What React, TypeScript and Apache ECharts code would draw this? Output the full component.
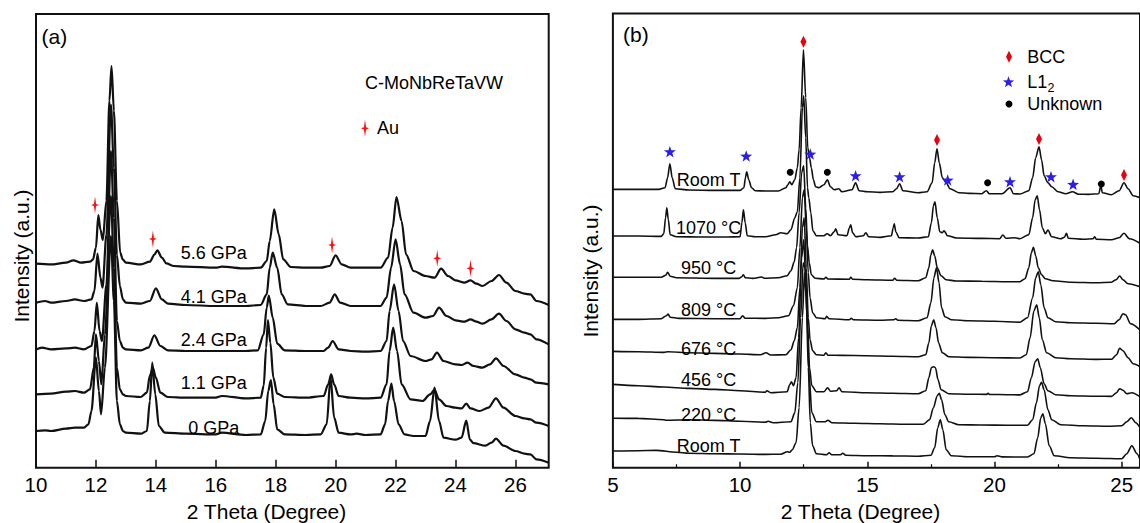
import { useEffect, useRef } from "react";
import * as echarts from "echarts";

const FONT = "'Liberation Sans', Arial, Helvetica, sans-serif";
const INK = "#111111";
const TXT = "#000000";

// ---------- Panel (a): pressure series, 2θ (deg) vs intensity (a.u.) ----------
const gpa56: number[][] = [[10.0,204],[10.5,203.3],[11.0,205],[11.25,207.3],[11.5,205],[11.8,206],[11.9,208],[12.0,220],[12.08,252.7],[12.15,238],[12.23,227.7],[12.35,267],[12.45,367],[12.52,401.7],[12.6,357],[12.7,267],[12.81,215],[12.9,208],[13.0,205],[13.5,203.3],[13.8,206],[13.95,213],[14.05,217.3],[14.2,210],[14.35,204.3],[14.6,201.7],[15.0,201],[16.0,200],[16.2,201],[17.0,199.3],[17.5,200],[17.7,206.7],[17.8,226.7],[17.95,258.3],[18.1,233.3],[18.25,208.3],[18.5,200.7],[19.0,200],[19.5,200],[19.8,201.7],[20.0,212.3],[20.2,203.3],[20.5,200],[21.0,200],[21.5,200],[21.75,210],[21.9,240],[22.03,270.7],[22.2,246.7],[22.35,213.3],[22.6,196.7],[23.0,191.7],[23.3,190],[23.52,199],[23.75,191.7],[24.0,187.3],[24.3,185],[24.5,187.3],[24.7,184],[24.9,181.7],[25.2,186.7],[25.45,192.7],[25.7,185],[26.0,176.7],[26.3,174],[26.5,173.3],[26.7,166.7],[27.11,162.7]];
const gpa41: number[][] = [[10.0,165],[10.3,166.7],[10.5,165],[11.0,166.7],[11.3,168.3],[11.6,166.7],[11.85,168.3],[11.95,176.7],[12.05,214],[12.15,190],[12.22,180],[12.35,233],[12.5,363],[12.6,300],[12.7,213],[12.8,181.7],[12.9,168.3],[13.0,165],[13.5,164],[13.8,166.7],[14.0,179.3],[14.2,168.3],[14.4,164],[15.0,162.7],[16.0,161.7],[17.0,161.7],[17.5,162.7],[17.7,173.3],[17.8,200],[17.9,215],[18.05,200],[18.2,173.3],[18.4,163.3],[19.0,161.7],[19.5,161.7],[19.8,165],[19.97,173.3],[20.15,165],[20.5,161.7],[21.0,161.7],[21.5,161.7],[21.7,170],[21.85,200],[22.0,228.3],[22.15,203.3],[22.3,173.3],[22.6,155],[23.0,150],[23.25,151.7],[23.45,160],[23.7,151.7],[24.0,147.3],[24.3,146],[24.5,148.3],[24.7,146],[24.9,144],[25.2,148.3],[25.45,154],[25.7,146.7],[26.0,138.3],[26.3,135],[26.5,133.3],[26.7,128.3],[27.11,123.3]];
const gpa24: number[][] = [[10.0,118.3],[10.2,120],[10.5,118.3],[11.0,119.3],[11.3,120],[11.6,118.3],[11.85,121.7],[11.95,136.7],[12.03,165],[12.12,136.7],[12.2,126.7],[12.35,183],[12.5,316.7],[12.6,250],[12.7,146.7],[12.8,126.7],[12.9,120],[13.0,118.3],[13.5,117.3],[13.75,120],[13.95,132.3],[14.15,121.7],[14.4,117.3],[15.0,116.7],[16.0,116.7],[17.0,116.7],[17.4,117.3],[17.6,133.3],[17.7,160],[17.77,172],[17.9,150],[18.05,124],[18.3,117.3],[19.0,116.7],[19.6,116.7],[19.75,120],[19.9,126.7],[20.1,118.3],[20.5,116.7],[21.0,116],[21.5,116.7],[21.7,126.7],[21.8,156.7],[21.95,183.3],[22.1,156.7],[22.25,126.7],[22.5,111.7],[23.0,106.7],[23.2,108.3],[23.38,115],[23.6,106.7],[24.0,103.3],[24.2,102.7],[24.4,105],[24.6,101.7],[24.9,100],[25.15,103.3],[25.35,109.3],[25.6,101.7],[26.0,93.3],[26.3,90],[26.5,88.3],[26.7,85],[27.11,83.3]];
const gpa11: number[][] = [[10.0,73.3],[10.5,74],[11.0,76],[11.3,76.7],[11.6,75],[11.8,78.3],[11.93,100],[12.0,133.3],[12.1,106.7],[12.18,83.3],[12.3,133],[12.5,271.7],[12.6,200],[12.7,100],[12.8,78.3],[12.9,73.3],[13.0,71.7],[13.5,70.7],[13.7,75],[13.8,92],[13.9,100],[14.0,90],[14.15,75],[14.4,70.7],[15.0,70],[16.0,70],[16.2,71.7],[17.0,69.3],[17.5,70],[17.6,82],[17.68,120],[17.74,147.7],[17.82,125],[17.92,90],[18.05,74],[18.3,70.7],[19.0,70],[19.6,71.7],[19.75,83.3],[19.85,93.3],[19.95,83.3],[20.1,71.7],[20.5,70],[21.0,69.3],[21.5,70],[21.7,83.3],[21.8,116.7],[21.92,140],[22.05,116.7],[22.2,83.3],[22.5,68.3],[22.9,66.7],[23.15,73.3],[23.3,78],[23.45,68.3],[23.7,61.7],[24.0,60],[24.2,59.3],[24.36,64],[24.5,59.3],[24.8,56.7],[25.1,60],[25.35,69.3],[25.6,60],[26.0,51.7],[26.3,49.3],[26.5,48.3],[26.7,45],[27.11,41.7]];
const gpa0: number[][] = [[10.0,36.7],[10.3,37.3],[10.5,36.7],[11.0,39],[11.3,40],[11.6,40],[11.75,43.3],[11.85,56.7],[12.0,110],[12.1,76.7],[12.17,53.3],[12.3,100],[12.5,231.7],[12.6,166.7],[12.7,66.7],[12.8,43.3],[12.9,36.7],[13.0,35],[13.5,34],[13.7,36.7],[13.8,66.7],[13.88,105],[13.98,73.3],[14.1,41.7],[14.3,35],[15.0,34],[16.0,33.3],[16.2,35],[17.0,32.7],[17.5,33.3],[17.65,46.7],[17.75,76.7],[17.84,87.7],[17.93,63.3],[18.05,38.3],[18.3,33.3],[19.0,32.7],[19.5,33.3],[19.7,43.3],[19.83,90],[19.95,50],[20.1,35],[20.5,33.3],[20.7,34],[21.0,32.7],[21.5,33.3],[21.65,43.3],[21.75,66.7],[21.86,84],[21.95,66.7],[22.1,43.3],[22.3,33.3],[22.6,31.7],[23.0,31.7],[23.15,46.7],[23.3,80],[23.45,46.7],[23.6,30],[24.0,28],[24.2,30],[24.36,47],[24.48,28],[24.6,24.5],[25.0,22],[25.2,25],[25.35,29],[25.6,22],[26.0,16.7],[26.3,14],[26.5,13.3],[26.7,8.3],[27.11,5]];
const auPeaks: number[][] = [[11.97,262.7],[13.9,228.7],[19.88,222.7],[23.39,209.4],[24.5,199.4]];
const aLabelNames = ["5.6 GPa", "4.1 GPa", "2.4 GPa", "1.1 GPa", "0 GPa"];
const aLabelX = 15.93;
const aLabelY = [214.4, 171, 127.7, 84.4, 39.4];

// ---------- Panel (b): temperature series ----------
const bRoomTop: number[][] = [[5.0,278.3],[6.0,278.3],[6.8,278.3],[7.05,280],[7.15,290],[7.24,304],[7.33,290],[7.45,279],[8.0,277.7],[9.0,277.3],[10.0,277.3],[10.15,280],[10.21,290],[10.26,296],[10.34,288],[10.45,280],[10.6,277],[11.0,276.7],[11.5,276.7],[11.8,280],[11.88,283],[11.95,286],[12.03,283],[12.15,288],[12.25,300],[12.32,318],[12.4,360],[12.49,418],[12.58,370],[12.66,320],[12.73,310],[12.8,300],[12.88,288],[12.97,281],[13.1,280],[13.3,283],[13.43,288],[13.55,281],[13.7,278],[13.88,279],[14.0,276],[14.4,278],[14.54,285],[14.68,277],[15.0,276],[15.5,275.3],[16.0,276],[16.15,279],[16.27,284],[16.4,277],[17.0,275],[17.35,276],[17.55,285],[17.65,305],[17.74,319],[17.83,305],[17.95,290],[18.1,285],[18.25,279],[18.6,275],[19.0,274.3],[19.5,274],[19.68,277],[19.8,274],[20.3,274],[20.61,280],[20.75,274],[21.0,273.7],[21.35,277],[21.5,290],[21.62,310],[21.75,321],[21.85,308],[21.95,292],[22.1,285],[22.25,281],[22.5,276],[22.8,274],[23.07,276],[23.3,273.5],[23.7,273.3],[24.1,274],[24.18,282],[24.24,275],[24.6,273],[24.9,277],[25.09,285],[25.25,279],[25.45,272],[25.72,270]];
const b1070: number[][] = [[5.0,231.7],[6.0,231.7],[6.9,231.3],[7.0,234],[7.07,250],[7.12,260],[7.18,248],[7.25,233],[7.5,231],[8.5,230.7],[9.5,230.7],[10.0,231],[10.07,245],[10.13,258],[10.2,245],[10.28,232],[10.6,231],[11.0,231],[11.4,233],[11.6,235],[11.85,234],[12.0,238],[12.15,250],[12.25,256],[12.35,290],[12.45,360],[12.5,372],[12.58,330],[12.65,280],[12.7,270],[12.78,255],[12.86,237],[13.0,232],[13.3,232],[13.42,234],[13.55,232],[13.7,236],[13.76,239],[13.85,233],[14.2,232],[14.3,240],[14.35,243],[14.42,235],[14.55,231],[14.85,232],[14.94,235],[15.05,231],[15.5,230.3],[15.95,232],[16.02,240],[16.06,244],[16.12,236],[16.25,230],[17.0,229.7],[17.4,231],[17.52,245],[17.6,262],[17.66,266],[17.75,250],[17.85,236],[17.95,235],[18.02,237],[18.15,232],[18.5,229.7],[19.5,229.3],[20.2,229],[20.33,232.7],[20.45,229.5],[20.8,230],[21.0,229],[21.35,233],[21.5,250],[21.6,268],[21.68,272],[21.77,258],[21.88,240],[22.0,234],[22.1,237.7],[22.25,231],[22.6,229],[22.75,230.5],[22.83,234.4],[22.9,229.5],[23.5,228.5],[23.88,229],[23.94,231],[24.0,228.5],[24.6,228],[24.9,230],[25.09,234.4],[25.3,229],[25.72,224.4]];
const b950: number[][] = [[5.0,190.5],[6.0,190.5],[6.9,190.5],[7.08,192.5],[7.15,195.5],[7.25,191.5],[7.5,190],[9.0,189.3],[9.95,189.3],[10.07,191],[10.13,193],[10.2,190],[10.5,189.3],[10.85,190.7],[10.95,189.5],[11.5,190],[11.85,192],[12.0,197],[12.13,206],[12.22,220],[12.32,255],[12.42,295],[12.5,302],[12.58,260],[12.65,222],[12.72,205],[12.8,193],[12.95,189.5],[13.3,188.7],[13.37,190.5],[13.45,188.7],[14.3,188.5],[14.35,190.5],[14.42,188.5],[15.0,188],[16.0,187.5],[16.08,189.5],[16.15,187.5],[17.0,187],[17.3,190],[17.42,200],[17.5,213],[17.57,218],[17.65,212],[17.75,200],[17.9,192],[18.1,188],[18.5,186.7],[19.5,186.5],[20.5,186],[21.0,186],[21.2,189],[21.35,200],[21.45,215],[21.53,220.5],[21.62,212],[21.72,200],[21.85,193],[22.0,189],[22.3,187],[23.0,185.5],[24.0,185],[24.6,185.5],[24.78,188],[24.92,191.7],[25.05,188],[25.25,184],[25.72,181]];
const b809: number[][] = [[5.0,148.3],[6.0,148.3],[6.9,149],[7.1,152],[7.17,153.7],[7.25,150.5],[7.6,149.3],[9.0,149],[10.0,149],[10.1,152],[10.2,149.5],[11.0,149.3],[11.5,150],[11.9,152],[12.1,162],[12.25,180],[12.35,220],[12.45,270],[12.52,278],[12.6,240],[12.68,195],[12.75,170],[12.85,155],[13.0,150],[13.35,149],[13.4,151.5],[13.5,149],[14.3,148],[14.37,149.5],[14.45,148],[15.5,147.5],[16.05,148],[16.12,149],[16.2,147.5],[17.0,147],[17.35,150],[17.5,165],[17.62,190],[17.72,200],[17.82,185],[17.92,160],[18.05,151],[18.3,148],[19.0,147],[20.0,146.5],[21.0,145.5],[21.3,150],[21.5,170],[21.62,190],[21.72,196],[21.82,183],[21.95,160],[22.1,150],[22.4,146],[23.0,145],[24.0,144.5],[24.7,144],[24.9,148],[25.05,154],[25.15,153],[25.35,144],[25.72,137.7]];
const b676: number[][] = [[5.0,116.3],[6.0,116],[7.0,115.3],[7.17,116],[8.0,115],[9.0,114.3],[10.0,113.7],[10.8,113],[11.02,115],[11.2,112.7],[11.8,113],[12.0,118],[12.13,127],[12.25,140],[12.35,180],[12.45,240],[12.52,250],[12.6,200],[12.68,150],[12.75,128],[12.85,117],[13.0,113],[13.3,112.5],[13.37,115],[13.45,112.5],[14.0,112.3],[15.0,112],[16.0,111.5],[17.0,111],[17.3,113],[17.42,125],[17.52,142],[17.61,148],[17.7,140],[17.8,125],[17.95,115],[18.2,111],[19.0,110.3],[20.0,110],[21.0,109.7],[21.25,113],[21.4,130],[21.55,157],[21.66,163],[21.76,150],[21.88,128],[22.05,115],[22.4,110],[23.0,109],[24.0,108.3],[24.6,108.5],[24.8,113],[24.92,119.4],[25.05,117],[25.25,110],[25.45,104],[25.72,101]];
const b456: number[][] = [[5.0,83.3],[6.0,82],[7.0,80.7],[8.0,79.3],[9.0,78.3],[10.0,77],[11.0,75.5],[11.05,77],[11.2,75],[11.85,76],[11.95,83],[12.02,86],[12.1,82],[12.2,90],[12.3,130],[12.42,210],[12.5,228],[12.58,190],[12.66,140],[12.73,100],[12.82,82],[13.0,76],[13.3,76],[13.44,80],[13.55,76.5],[13.8,77],[13.89,80],[14.0,76],[15.0,75],[16.0,74.5],[17.0,74],[17.3,77],[17.42,90],[17.52,100],[17.6,101],[17.68,100],[17.78,88],[17.9,78],[18.2,74],[19.0,73.5],[19.7,73.3],[19.75,74.5],[19.8,73.3],[20.5,73],[21.0,72.8],[21.3,76],[21.45,90],[21.6,106],[21.7,109],[21.8,100],[21.95,84],[22.1,77],[22.4,73],[23.0,72],[24.0,71.5],[24.6,71.3],[24.8,75],[24.92,79],[25.05,77.5],[25.2,74],[25.4,75],[25.72,71]];
const b220: number[][] = [[5.0,49.5],[6.0,49.3],[7.0,48],[7.1,47.5],[8.0,48],[9.0,47.3],[10.0,46.5],[11.0,45.5],[11.1,46.5],[11.3,45],[12.0,46],[12.15,55],[12.27,85],[12.38,150],[12.48,205],[12.55,200],[12.63,150],[12.72,90],[12.82,55],[13.0,46],[13.35,46],[13.45,47.5],[13.6,45],[14.5,44.5],[15.5,44],[16.5,43.5],[17.2,43.5],[17.45,48],[17.6,60],[17.75,72],[17.83,74.5],[17.92,68],[18.05,53],[18.2,46],[18.6,43],[19.5,42.7],[20.5,42.5],[21.3,42.5],[21.5,48],[21.65,65],[21.77,82],[21.85,85.5],[21.95,78],[22.1,58],[22.25,48],[22.6,43],[23.5,42],[24.5,41.5],[25.0,42],[25.2,46],[25.38,50],[25.55,45],[25.72,40]];
const bRoomBottom: number[][] = [[5.0,16.7],[6.0,17],[6.7,17.3],[7.5,15.5],[8.0,14.5],[9.0,14],[10.0,13.7],[11.0,13.3],[11.6,13.5],[11.85,16],[11.95,15.5],[12.05,18],[12.2,25],[12.32,60],[12.45,150],[12.53,195],[12.6,170],[12.68,100],[12.76,45],[12.85,22],[13.0,14],[13.4,13],[13.5,15],[13.6,13],[13.95,13],[14.03,14.5],[14.15,12.5],[15.0,12],[16.0,11.8],[17.0,11.5],[17.5,12.5],[17.65,20],[17.77,40],[17.87,48],[17.97,38],[18.1,18],[18.3,12],[19.0,11],[20.0,11],[20.1,12],[20.3,10.8],[21.3,10.7],[21.55,14],[21.7,30],[21.82,50],[21.9,54],[22.0,44],[22.15,22],[22.35,12],[23.0,10],[24.0,9.5],[25.0,9],[25.2,14],[25.4,22],[25.6,14],[25.72,8]];
const bccPeaks: number[][] = [[12.49,426],[17.74,327.7],[21.75,328.7],[25.09,292.7]];
const l12Peaks: number[][] = [[7.24,316],[10.24,311.7],[12.76,313.7],[14.54,292],[16.27,291],[18.16,287.7],[20.61,286],[22.22,291],[23.09,283.4]];
const unknownPeaks: number[][] = [[11.97,295.4],[13.43,295.4],[19.73,285],[24.2,283.7]];
const bLabelNames = ["Room T", "1070 °C", "950 °C", "809 °C", "676 °C", "456 °C", "220 °C", "Room T"];
const bLabelX = 8.76;
const bLabelY = [287.7, 239.4, 199.4, 157.7, 118.4, 87.7, 52.7, 21.7];

const AU_PATH = "path://M0,-8.5 L1.1,-1.1 L4,0 L1.1,1.1 L0,8.5 L-1.1,1.1 L-4,0 L-1.1,-1.1 Z";
const STAR_PTS = [[0,-6],[1.411,-1.942],[5.706,-1.854],[2.283,0.742],[3.527,4.854],[0,2.4],[-3.527,4.854],[-2.283,0.742],[-5.706,-1.854],[-1.411,-1.942]];
const STAR_PATH = "path://M" + STAR_PTS.map((p) => p.join(",")).join(" L") + " Z";
const AU_PTS = [[0,-8.5],[1.1,-1.1],[4,0],[1.1,1.1],[0,8.5],[-1.1,1.1],[-4,0],[-1.1,-1.1]];

function lineSeries(data: number[][], axis: number, width: number) {
  return {
    type: "line",
    xAxisIndex: axis,
    yAxisIndex: axis,
    data,
    symbol: "none",
    showSymbol: false,
    smooth: 0.3,
    smoothMonotone: "x",
    lineStyle: { color: INK, width },
    silent: true,
    clip: true,
    z: 2,
  };
}

function labelSeries(names: string[], x: number, ys: number[], axis: number) {
  return {
    type: "scatter",
    xAxisIndex: axis,
    yAxisIndex: axis,
    symbolSize: 0,
    silent: true,
    z: 6,
    itemStyle: { opacity: 1, color: "transparent" },
    data: names.map((n, i) => ({ name: n, value: [x, ys[i]] })),
    label: {
      show: true, position: "inside", formatter: "{b}", fontSize: 18, color: TXT, fontFamily: FONT,
      opacity: 1, textBorderWidth: 0, textBorderColor: "transparent", textShadowBlur: 0,
    },
  };
}

function markerSeries(data: number[][], axis: number, symbol: string, size: any, color: string) {
  return {
    type: "scatter",
    xAxisIndex: axis,
    yAxisIndex: axis,
    data,
    symbol,
    symbolSize: size,
    itemStyle: { color, opacity: 1 },
    silent: true,
    z: 5,
  };
}

const txt = (text: string, x: number, y: number, size: number, align = "left", extra: any = {}) => ({
  type: "text",
  x,
  y,
  silent: true,
  ...extra,
  style: { text, fill: TXT, font: `${size}px ${FONT}`, textAlign: align, textVerticalAlign: "middle" },
});

const axisTickCommon = { inside: true, lineStyle: { color: INK, width: 1.5 } };

const option = {
  animation: false,
  backgroundColor: "#ffffff",
  textStyle: { fontFamily: FONT },
  grid: [
    { left: 36, top: 14, width: 512.7, height: 453.7, show: true, borderColor: INK, borderWidth: 2, backgroundColor: "transparent" },
    { left: 612.9, top: 13.5, width: 528.9, height: 454.2, show: true, borderColor: INK, borderWidth: 2, backgroundColor: "transparent" },
  ],
  xAxis: [
    {
      gridIndex: 0, type: "value", min: 10, max: 27.11, interval: 2,
      axisLine: { show: false },
      axisTick: { ...axisTickCommon, length: 8 },
      axisLabel: { fontSize: 20.5, color: TXT, margin: 6, showMaxLabel: false, fontFamily: FONT },
      splitLine: { show: false },
    },
    {
      gridIndex: 1, type: "value", min: 5, max: 25.72, interval: 5,
      axisLine: { show: false },
      axisTick: { ...axisTickCommon, length: 6 },
      minorTick: { show: true, splitNumber: 2, length: 3.5, lineStyle: { color: INK, width: 1.2 } },
      axisLabel: { fontSize: 20.5, color: TXT, margin: 6, showMaxLabel: false, fontFamily: FONT },
      splitLine: { show: false },
      minorSplitLine: { show: false },
    },
  ],
  yAxis: [
    { gridIndex: 0, type: "value", min: 0, max: 453.7, show: false, splitLine: { show: false } },
    { gridIndex: 1, type: "value", min: 0, max: 454.2, show: false, splitLine: { show: false } },
  ],
  series: [
    lineSeries(gpa56, 0, 2.2),
    lineSeries(gpa41, 0, 2.2),
    lineSeries(gpa24, 0, 2.2),
    lineSeries(gpa11, 0, 2.2),
    lineSeries(gpa0, 0, 2.2),
    markerSeries(auPeaks, 0, AU_PATH, [8, 17], "#ff1010"),
    labelSeries(aLabelNames, aLabelX, aLabelY, 0),
    lineSeries(bRoomTop, 1, 1.6),
    lineSeries(b1070, 1, 1.6),
    lineSeries(b950, 1, 1.6),
    lineSeries(b809, 1, 1.6),
    lineSeries(b676, 1, 1.6),
    lineSeries(b456, 1, 1.6),
    lineSeries(b220, 1, 1.6),
    lineSeries(bRoomBottom, 1, 1.6),
    markerSeries(bccPeaks, 1, "diamond", [6, 12], "#e8000e"),
    markerSeries(l12Peaks, 1, STAR_PATH, [12, 11.4], "#2a1fe3"),
    markerSeries(unknownPeaks, 1, "circle", 7, "#000000"),
    labelSeries(bLabelNames, bLabelX, bLabelY, 1),
  ],
  graphic: [
    txt("(a)", 41.5, 36, 21),
    txt("(b)", 623, 34, 21),
    txt("C-MoNbReTaVW", 365, 83.3, 18),
    { type: "polygon", x: 365, y: 128.3, silent: true, shape: { points: AU_PTS }, style: { fill: "#ff1010" } },
    txt("Au", 377, 128.3, 18),
    { type: "polygon", x: 1009, y: 56.7, silent: true, shape: { points: [[0,-6],[3,0],[0,6],[-3,0]] }, style: { fill: "#e8000e" } },
    txt("BCC", 1027.3, 56.7, 18),
    { type: "polygon", x: 1008.5, y: 82.3, silent: true, shape: { points: STAR_PTS }, style: { fill: "#2a1fe3" } },
    txt("L1", 1027.3, 81.7, 18),
    txt("2", 1047.5, 87.5, 12.5),
    { type: "circle", x: 1009, y: 104, silent: true, shape: { cx: 0, cy: 0, r: 3.5 }, style: { fill: "#000000" } },
    txt("Unknown", 1027.3, 104, 18),
    txt("2 Theta (Degree)", 266.5, 511.7, 21, "center"),
    txt("2 Theta (Degree)", 860.5, 511.7, 21, "center"),
    txt("Intensity (a.u.)", 21, 256, 21, "center", { rotation: Math.PI / 2 }),
    txt("Intensity (a.u.)", 590, 271, 21, "center", { rotation: Math.PI / 2 }),
  ],
};

export default function App() {
  const ref = useRef<HTMLDivElement>(null);
  useEffect(() => {
    if (!ref.current) return;
    const chart = echarts.init(ref.current, undefined, { renderer: "svg", width: 1140, height: 523 });
    chart.setOption(option as any);
    return () => chart.dispose();
  }, []);
  return (
    <div
      ref={ref}
      style={{ position: "absolute", left: 0, top: 0, width: 1140, height: 523, overflow: "hidden", background: "#fff" }}
    />
  );
}
